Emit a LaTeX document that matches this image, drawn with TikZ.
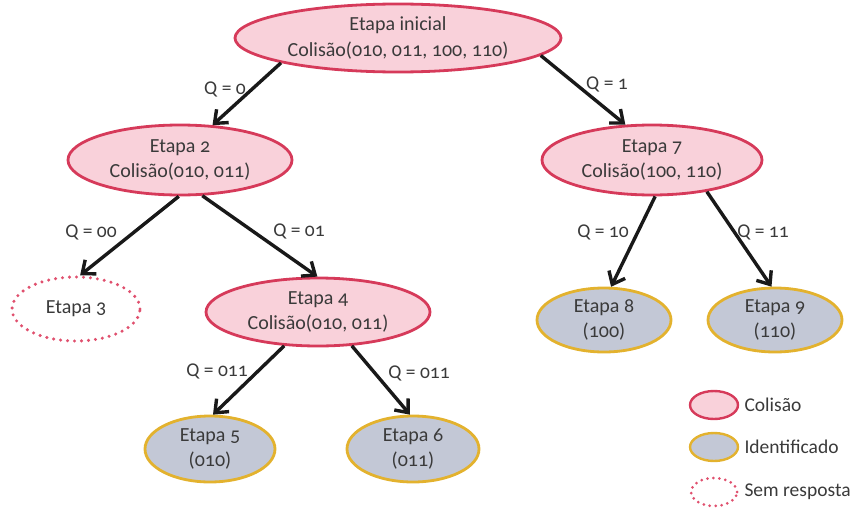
\documentclass[tikz,border=0pt]{standalone}
\usepackage{fontspec}
\setmainfont{Carlito}[Numbers=OldStyle]
\usetikzlibrary{shapes.geometric,arrows.meta}
\definecolor{colfill}{HTML}{F9D1DA}
\definecolor{coldraw}{HTML}{D63A5A}
\definecolor{idfill}{HTML}{C3C8D6}
\definecolor{iddraw}{HTML}{E3B22E}
\definecolor{txt}{HTML}{3A3A3A}
\definecolor{dotc}{HTML}{E0506E}
\tikzset{
  every node/.style={text=txt, font=\fontsize{20}{25.5}\selectfont, align=center},
  colbox/.style={ellipse, draw=coldraw, fill=colfill, line width=2.8pt, inner sep=0pt},
  idbox/.style={ellipse, draw=iddraw, fill=idfill, line width=2.8pt, inner sep=0pt},
  nobox/.style={ellipse, draw=dotc, fill=white, line width=3.4pt, dash pattern=on 0pt off 7pt, line cap=round, inner sep=0pt},
  arr/.style={-{Straight Barb[length=11pt,width=18pt]}, line width=3.4pt, black!90},
  qlab/.style={font=\fontsize{19.5}{22}\selectfont},
  legtxt/.style={anchor=west, font=\fontsize{19.5}{22}\selectfont}
}
\begin{document}
\begin{tikzpicture}[x=1pt,y=-1pt]
\useasboundingbox (0,0) rectangle (867,514);
\node[colbox, minimum width=326pt, minimum height=68pt] (root) at (398,38) {Etapa inicial\\Colisão(010, 011, 100, 110)};
\node[colbox, minimum width=224pt, minimum height=70pt] (e2) at (180,160) {Etapa 2\\Colisão(010, 011)};
\node[colbox, minimum width=220pt, minimum height=70pt] (e7) at (652,160) {Etapa 7\\Colisão(100, 110)};
\node[nobox, minimum width=128pt, minimum height=64pt] (e3) at (76,309) {Etapa 3};
\node[colbox, minimum width=224pt, minimum height=68pt] (e4) at (318,312) {Etapa 4\\Colisão(010, 011)};
\node[idbox, minimum width=134pt, minimum height=64pt] (e8) at (604,320) {Etapa 8\\(100)};
\node[idbox, minimum width=134pt, minimum height=64pt] (e9) at (775,320) {Etapa 9\\(110)};
\node[idbox, minimum width=130pt, minimum height=66pt] (e5) at (210,449) {Etapa 5\\(010)};
\node[idbox, minimum width=132pt, minimum height=66pt] (e6) at (413,449) {Etapa 6\\(011)};

\draw[arr] (root.192) -- (e2.47);
\draw[arr] (root.353) -- (e7.127);
\draw[arr] (e2.268) -- (e3.83);
\draw[arr] (e2.302) -- (e4.91);
\draw[arr] (e7.275) -- (e8.78);
\draw[arr] (e7.330) -- (e9.96);
\draw[arr] (e4.225) -- (e5.85);
\draw[arr] (e4.315) -- (e6.95);

\node[qlab] (q0) at (225,89) {Q = 0};
\node[qlab] (q1) at (607,84) {Q = 1};
\node[qlab] (q00) at (91,232) {Q = 00};
\node[qlab] (q01) at (299,231) {Q = 01};
\node[qlab] (q10) at (603,232) {Q = 10};
\node[qlab] (q11) at (763,232) {Q = 11};
\node[qlab] (q011a) at (217,371) {Q = 011};
\node[qlab] (q011b) at (419,373) {Q = 011};

\node[colbox, minimum width=48pt, minimum height=28pt, line width=2.4pt] (l1) at (714,405) {};
\node[idbox, minimum width=48pt, minimum height=28pt, line width=2.4pt] (l2) at (714,447) {};
\node[nobox, minimum width=46pt, minimum height=28pt, line width=3pt, dash pattern=on 0pt off 6pt] (l3) at (714,492) {};
\node[legtxt] (t1) at (741,405) {Colisão};
\node[legtxt] (t2) at (741,447) {Identificado};
\node[legtxt] (t3) at (741,492) {Sem resposta};
\end{tikzpicture}
\end{document}
